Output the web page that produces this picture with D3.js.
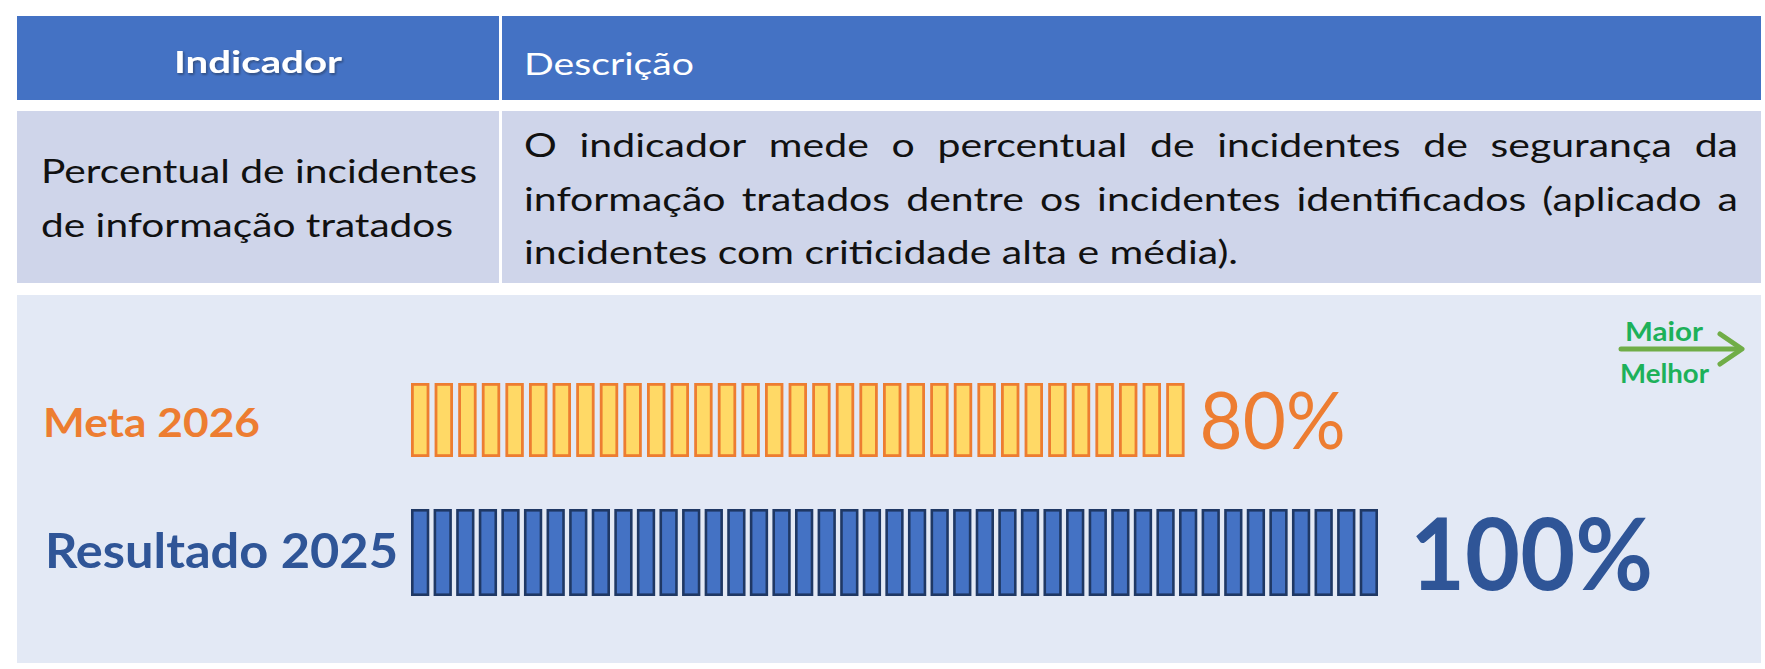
<!DOCTYPE html>
<html>
<head>
<meta charset="utf-8">
<script src="https://cdn.jsdelivr.net/npm/d3@7"></script>
<style>
  html, body { margin: 0; padding: 0; background: #ffffff; }
  svg { display: block; }
</style>
</head>
<body>
<div id="chart"></div>
<script>
// ---- content ----
const headers = ["Indicador", "Descrição"];
const indicatorLines = ["Percentual de incidentes", "de informação tratados"];
const descriptionLines = [
  "O indicador mede o percentual de incidentes de segurança da",
  "informação tratados dentre os incidentes identificados (aplicado a",
  "incidentes com criticidade alta e média)."
];
const seriesNames = ["Meta 2026", "Resultado 2025"];
const seriesValues = [80, 100];
const valueLabels = ["80%", "100%"];
const blockCounts = [33, 43];
const directionLabels = ["Maior", "Melhor"];

// ---- layout & style ----
const W = 1765, H = 669;
const FONT = "Lato, 'Open Sans', 'DejaVu Sans', sans-serif";
const table = { x0: 17, x1: 1761, split: 499, gap: 3 };
const headerRow = { y0: 16, y1: 100, fill: "#4472C4" };
const bodyRow = { y0: 111, y1: 283, fill: "#CFD5EA" };
const panel = { y0: 295, y1: 663, fill: "#E3E9F5" };

const rowStyle = [
  { y: 383, h: 74, fill: "#FFD966", stroke: "#ED7D31", sw: 2.8, pad: 0.22,
    labelColor: "#ED7D31", labelWeight: 700, labelSize: 40.5, labelX: 43, labelBase: 437, labelW: 217,
    valColor: "#ED7D31", valWeight: 400, valSize: 79, valGap: 15, valBase: 449, valW: 146 },
  { y: 509, h: 87, fill: "#4472C4", stroke: "#1F3864", sw: 2.6, pad: 0.19,
    labelColor: "#2F5597", labelWeight: 700, labelSize: 48, labelX: 45, labelBase: 568, labelW: 353,
    valColor: "#2F5597", valWeight: 700, valSize: 100, valGap: 32, valBase: 590, valW: 243 }
];

const svg = d3.select("#chart").append("svg")
  .attr("width", W).attr("height", H)
  .attr("viewBox", `0 0 ${W} ${H}`);

svg.append("rect").attr("width", W).attr("height", H).attr("fill", "#ffffff");

const defs = svg.append("defs");
defs.append("filter").attr("id", "hdrShadow")
  .attr("x", "-10%").attr("y", "-20%").attr("width", "130%").attr("height", "160%")
  .append("feDropShadow")
  .attr("dx", 1.2).attr("dy", 1.5).attr("stdDeviation", 1.2)
  .attr("flood-color", "#1a1a1a").attr("flood-opacity", 0.45);

// stretch a text element horizontally to a measured width
function fitWidth(sel, target) {
  sel.attr("textLength", target).attr("lengthAdjust", "spacingAndGlyphs");
}

// ---- table ----
const cols = [
  { x0: table.x0, x1: table.split },
  { x0: table.split + table.gap, x1: table.x1 }
];

[headerRow, bodyRow].forEach(row => {
  svg.append("g").selectAll("rect").data(cols).join("rect")
    .attr("x", d => d.x0).attr("y", row.y0)
    .attr("width", d => d.x1 - d.x0).attr("height", row.y1 - row.y0)
    .attr("fill", row.fill);
});

// header texts
svg.append("text")
  .attr("x", 258).attr("y", 73)
  .attr("text-anchor", "middle")
  .attr("font-family", FONT).attr("font-weight", 700).attr("font-size", 30)
  .attr("fill", "#ffffff")
  .attr("filter", "url(#hdrShadow)")
  .text(headers[0])
  .call(fitWidth, 168);

svg.append("text")
  .attr("x", 524).attr("y", 75)
  .attr("font-family", FONT).attr("font-weight", 400).attr("font-size", 31)
  .attr("fill", "#ffffff")
  .text(headers[1])
  .call(fitWidth, 170);

// indicator name
const indicatorBase = [183, 237];
const indicatorW = [436, 412];
svg.append("g").selectAll("text").data(indicatorLines).join("text")
  .attr("x", 41).attr("y", (d, i) => indicatorBase[i])
  .attr("font-family", FONT).attr("font-size", 33).attr("fill", "#111111")
  .text(d => d)
  .each(function (d, i) { d3.select(this).call(fitWidth, indicatorW[i]); });

// justified description paragraph
const descX0 = 524, descX1 = 1738;
const descBase = [157, 211, 264];
const descLastW = 714;
const descG = svg.append("g")
  .attr("font-family", FONT).attr("font-size", 33).attr("fill", "#111111");

// glyph stretch taken from the free-running last line
const probe = descG.append("text").text(descriptionLines[descriptionLines.length - 1]);
const sx = descLastW / probe.node().getComputedTextLength();
probe.remove();

descriptionLines.forEach((line, li) => {
  const last = li === descriptionLines.length - 1;
  if (last) {
    descG.append("text").attr("x", descX0).attr("y", descBase[li])
      .text(line).call(fitWidth, descLastW);
    return;
  }
  const words = line.split(" ");
  const widths = words.map(w => {
    const t = descG.append("text").text(w);
    const wd = t.node().getComputedTextLength() * sx;
    t.remove();
    return wd;
  });
  const total = d3.sum(widths);
  const gap = (descX1 - descX0 - total) / (words.length - 1);
  let x = descX0;
  words.forEach((w, wi) => {
    descG.append("text").attr("x", x).attr("y", descBase[li])
      .text(w).call(fitWidth, widths[wi]);
    x += widths[wi] + gap;
  });
});

// ---- panel ----
svg.append("rect")
  .attr("x", table.x0).attr("y", panel.y0)
  .attr("width", table.x1 - table.x0).attr("height", panel.y1 - panel.y0)
  .attr("fill", panel.fill);

const barX0 = 411;
const x = d3.scaleLinear().domain([0, 100]).range([0, 967]);

seriesValues.forEach((v, i) => {
  const s = rowStyle[i];
  const blocks = d3.scaleBand()
    .domain(d3.range(blockCounts[i]))
    .range([barX0, barX0 + x(v)])
    .paddingInner(s.pad).paddingOuter(0);

  svg.append("g").selectAll("rect").data(blocks.domain()).join("rect")
    .attr("x", d => blocks(d) + s.sw / 2)
    .attr("y", s.y + s.sw / 2)
    .attr("width", blocks.bandwidth() - s.sw)
    .attr("height", s.h - s.sw)
    .attr("fill", s.fill)
    .attr("stroke", s.stroke)
    .attr("stroke-width", s.sw);

  svg.append("text")
    .attr("x", s.labelX).attr("y", s.labelBase)
    .attr("font-family", FONT).attr("font-weight", s.labelWeight)
    .attr("font-size", s.labelSize).attr("fill", s.labelColor)
    .text(seriesNames[i])
    .call(fitWidth, s.labelW);

  svg.append("text")
    .attr("x", barX0 + x(v) + s.valGap).attr("y", s.valBase)
    .attr("font-family", FONT).attr("font-weight", s.valWeight)
    .attr("font-size", s.valSize).attr("fill", s.valColor)
    .text(valueLabels[i])
    .call(fitWidth, s.valW);
});

// "higher is better" arrow
const arrow = svg.append("g")
  .attr("stroke", "#70AD47").attr("stroke-width", 5)
  .attr("fill", "none").attr("stroke-linecap", "round").attr("stroke-linejoin", "round");
arrow.append("line").attr("x1", 1621).attr("y1", 349).attr("x2", 1740).attr("y2", 349);
arrow.append("polyline").attr("points", "1720,334 1742,349 1720,364");

const dirBase = [341, 383];
const dirX = [1625, 1620];
const dirW = [78, 89];
svg.append("g").selectAll("text").data(directionLabels).join("text")
  .attr("x", (d, i) => dirX[i]).attr("y", (d, i) => dirBase[i])
  .attr("font-family", FONT).attr("font-weight", 700).attr("font-size", 26)
  .attr("fill", "#1DB15A")
  .text(d => d)
  .each(function (d, i) { d3.select(this).call(fitWidth, dirW[i]); });
</script>
</body>
</html>
